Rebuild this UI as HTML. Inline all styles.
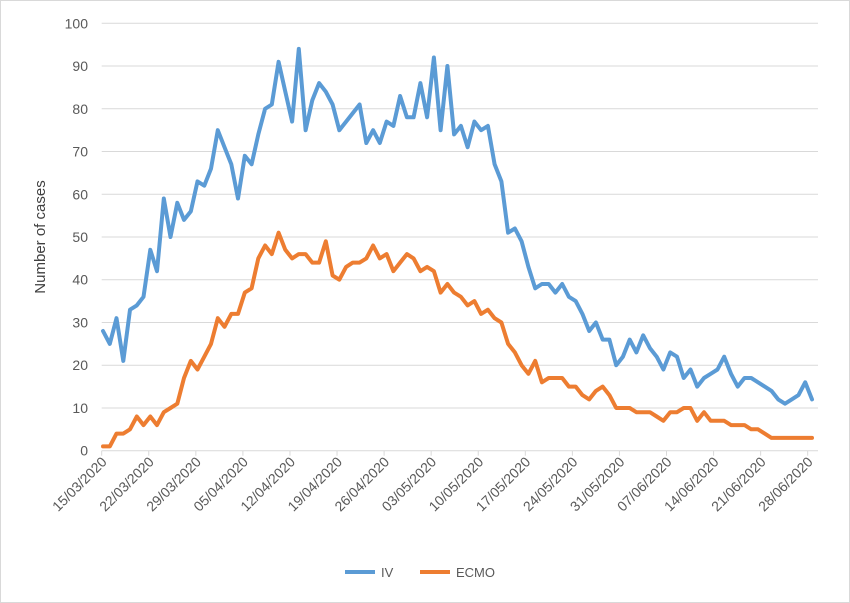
<!DOCTYPE html>
<html><head><meta charset="utf-8"><style>
body{margin:0;background:#fff;}
svg{display:block;font-family:"Liberation Sans",sans-serif;}
</style></head><body>
<svg id="chart" width="850" height="603">
<rect x="0.5" y="0.5" width="849" height="602" fill="#fff" stroke="#d9d9d9"/>
<g id="grid"></g><g id="axes"></g><g id="series"></g>
<text transform="translate(45,237) rotate(-90)" text-anchor="middle" font-size="15" fill="#404040">Number of cases</text>
<g>
<g><line x1="345" y1="572" x2="375" y2="572" stroke="#5b9bd5" stroke-width="4"/><text x="381" y="577" font-size="13" fill="#595959">IV</text></g>
<g><line x1="420" y1="572" x2="450" y2="572" stroke="#ed7d31" stroke-width="4"/><text x="456" y="577" font-size="13" fill="#595959">ECMO</text></g>
</g>
</svg>
<script>
const yTicks=[0,10,20,30,40,50,60,70,80,90,100];
const xTickLabels=["15/03/2020","22/03/2020","29/03/2020","05/04/2020","12/04/2020","19/04/2020","26/04/2020","03/05/2020","10/05/2020","17/05/2020","24/05/2020","31/05/2020","07/06/2020","14/06/2020","21/06/2020","28/06/2020"];
const ivValues=[28,25,31,21,33,34,36,47,42,59,50,58,54,56,63,62,66,75,71,67,59,69,67,74,80,81,91,84,77,94,75,82,86,84,81,75,77,79,81,72,75,72,77,76,83,78,78,86,78,92,75,90,74,76,71,77,75,76,67,63,51,52,49,43,38,39,39,37,39,36,35,32,28,30,26,26,20,22,26,23,27,24,22,19,23,22,17,19,15,17,18,19,22,18,15,17,17,16,15,14,12,11,12,13,16,12];
const ecmoValues=[1,1,4,4,5,8,6,8,6,9,10,11,17,21,19,22,25,31,29,32,32,37,38,45,48,46,51,47,45,46,46,44,44,49,41,40,43,44,44,45,48,45,46,42,44,46,45,42,43,42,37,39,37,36,34,35,32,33,31,30,25,23,20,18,21,16,17,17,17,15,15,13,12,14,15,13,10,10,10,9,9,9,8,7,9,9,10,10,7,9,7,7,7,6,6,6,5,5,4,3,3,3,3,3,3,3];
const NS="http://www.w3.org/2000/svg";
const X0=101.7,X1=807.7,Y0=450.7,Y100=23.3,PX0=103,PX1=812;
const yS=v=>Y0-(v/100)*(Y0-Y100);
const xS=i=>PX0+i*(PX1-PX0)/(ivValues.length-1);
const grid=document.getElementById('grid'),axes=document.getElementById('axes'),series=document.getElementById('series');
yTicks.forEach(t=>{
 const l=document.createElementNS(NS,'line');
 l.setAttribute('x1',X0);l.setAttribute('x2',818);l.setAttribute('y1',yS(t));l.setAttribute('y2',yS(t));
 l.setAttribute('stroke','#d9d9d9');l.setAttribute('stroke-width','1');
 
 
 grid.appendChild(l);
 const tx=document.createElementNS(NS,'text');
 tx.setAttribute('x',88);tx.setAttribute('y',yS(t)+5);tx.setAttribute('text-anchor','end');
 tx.setAttribute('font-size','14');tx.setAttribute('fill','#595959');tx.textContent=t;
 
 
 axes.appendChild(tx);
});
const step=(X1-X0)/(xTickLabels.length-1);
xTickLabels.forEach((lab,k)=>{
 const x=X0+k*step;
 const l=document.createElementNS(NS,'line');
 l.setAttribute('x1',x);l.setAttribute('x2',x);l.setAttribute('y1',Y0);l.setAttribute('y2',Y0+5);
 l.setAttribute('stroke','#d9d9d9');
 
 
 axes.appendChild(l);
 const tx=document.createElementNS(NS,'text');
 tx.setAttribute('transform','translate('+(x+6)+','+(Y0+12)+') rotate(-45)');
 tx.setAttribute('text-anchor','end');tx.setAttribute('font-size','14');tx.setAttribute('fill','#595959');
 tx.textContent=lab;
 
 
 axes.appendChild(tx);
});
function drawLine(vals,color,name){
 const p=document.createElementNS(NS,'polyline');
 p.setAttribute('points',vals.map((v,i)=>xS(i).toFixed(1)+','+yS(v).toFixed(1)).join(' '));
 p.setAttribute('fill','none');p.setAttribute('stroke',color);p.setAttribute('stroke-width','4');
 p.setAttribute('stroke-linejoin','round');p.setAttribute('stroke-linecap','round');
 
 
 series.appendChild(p);
}
drawLine(ivValues,'#5b9bd5','iv-line');
drawLine(ecmoValues,'#ed7d31','ecmo-line');
</script>
</body></html>
